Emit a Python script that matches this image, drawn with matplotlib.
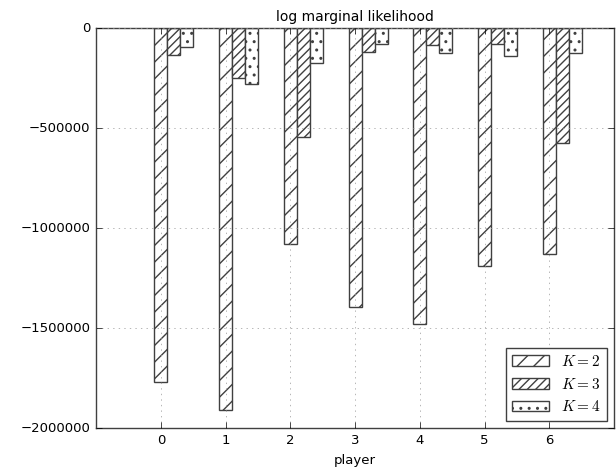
import numpy as np
import matplotlib
matplotlib.use('Agg')
import matplotlib.pyplot as plt

plt.style.use('classic')
plt.rcParams['font.size'] = 9.5
plt.rcParams['hatch.color'] = '0.25'
plt.rcParams['axes.edgecolor'] = '0.25'

# log marginal likelihood per player, for each number of clusters K
players = [0, 1, 2, 3, 4, 5, 6]
k2 = [-1770000, -1910000, -1080000, -1395000, -1480000, -1190000, -1130000]
k3 = [-135000, -250000, -545000, -120000, -85000, -80000, -575000]
k4 = [-95000, -280000, -175000, -80000, -125000, -140000, -125000]
labels = [r'$K=2$', r'$K=3$', r'$K=4$']
hatches = ['//', '////', '..']

fig = plt.figure(figsize=(6.16, 4.7), dpi=100)
fig.subplots_adjust(left=0.156, right=0.997, bottom=0.089, top=0.94)
ax = fig.add_subplot(111)

x = np.array(players)
width = 0.2
for i, (vals, lab, h) in enumerate(zip([k2, k3, k4], labels, hatches)):
    ax.bar(x + i * width, vals, width, color='white', edgecolor='0.25',
           hatch=h, label=lab, align='center', zorder=1)

ax.set_xlim(-1, 7)
ax.set_ylim(-2000000, 0)
ax.set_xticks(players)
ax.set_yticks([0, -500000, -1000000, -1500000, -2000000])
ax.set_axisbelow(False)
ax.grid(True, color='0.6', zorder=3)
ax.set_title('log marginal likelihood', fontsize=10)
ax.set_xlabel('player')
ax.legend(loc='lower right', fontsize=11, handlelength=2.4)

plt.savefig('out.png', dpi=100)
